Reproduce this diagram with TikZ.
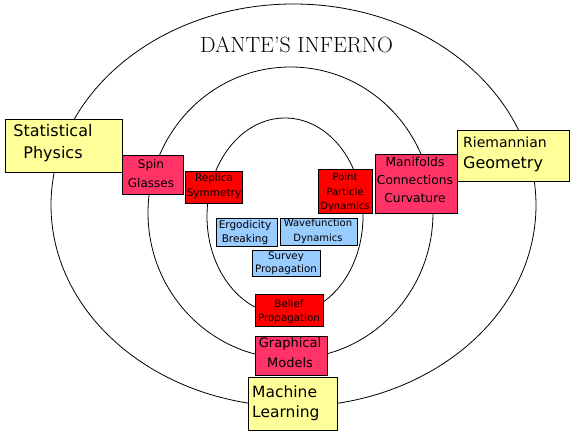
\documentclass[tikz,border=0pt]{standalone}
\usepackage{fontspec}
\newfontfamily\boxfnt{DejaVu Sans}
\usetikzlibrary{fit}
\definecolor{pyel}{HTML}{FFFF99}
\definecolor{ppink}{HTML}{FF3366}
\definecolor{pred}{HTML}{FF0000}
\definecolor{pblue}{HTML}{99CCFF}
\newcommand\ctrlines[1]{\vtop{\halign{\hfil##\hfil\cr#1\crcr}}}
\newcommand\lftlines[1]{\vtop{\halign{##\hfil\cr#1\crcr}}}
\begin{document}
\begin{tikzpicture}[x=1pt,y=-1pt,
  cbox/.style={draw=black,line width=0.9pt,inner sep=0pt,rectangle},
  txt/.style={inner sep=0pt,anchor=base,text=black},
  ring/.style={draw=black,line width=0.8pt}]
\fill[white] (0,0) rectangle (574,436);
\useasboundingbox (0,0) rectangle (574,436);
% rings
\draw[ring] (293.5,205.3) ellipse [x radius=242.5pt, y radius=201.3pt];
\draw[ring] (290.5,212.8) ellipse [x radius=142.5pt, y radius=145.8pt];
\draw[ring] (285,216.3) ellipse [x radius=78pt, y radius=98.3pt];
% title
\node[txt, font=\fontsize{22}{26}\selectfont\addfontfeature{LetterSpace=8}] (title) at (296.5,53) {DANTE'S INFERNO};
% boxes
\node[cbox, fill=pyel,  fit={(5,119) (122,172)}]   (sp) {};
\node[cbox, fill=ppink, fit={(122,155) (183,194)}] (sg) {};
\node[cbox, fill=pred,  fit={(185,171) (242,203)}] (rs) {};
\node[cbox, fill=pred,  fit={(318,169) (372,213)}] (pp) {};
\node[cbox, fill=ppink, fit={(375,154) (457,213)}] (mc) {};
\node[cbox, fill=pyel,  fit={(457,130) (569,181)}] (rg) {};
\node[cbox, fill=pblue, fit={(216,218) (277,246)}] (eb) {};
\node[cbox, fill=pblue, fit={(280,218) (357,245)}] (wd) {};
\node[cbox, fill=pblue, fit={(252,250) (320,276)}] (sv) {};
\node[cbox, fill=pred,  fit={(255,294) (323,326)}] (bp) {};
\node[cbox, fill=ppink, fit={(255,336) (327,375)}] (gm) {};
\node[cbox, fill=pyel,  fit={(248,377) (337,430)}] (ml) {};
% texts
\node[txt, font=\boxfnt\fontsize{16}{21}\selectfont] (spt) at (53,137) {\ctrlines{Statistical\cr Physics}};
\node[txt, font=\boxfnt\fontsize{12}{19}\selectfont] (sgt) at (151,168) {\ctrlines{Spin\cr Glasses}};
\node[txt, font=\boxfnt\fontsize{10.5}{15}\selectfont] (rst) at (214,182) {\ctrlines{Replica\cr Symmetry}};
\node[txt, font=\boxfnt\fontsize{10}{15}\selectfont] (ppt) at (345,180) {\ctrlines{Point\cr Particle\cr Dynamics}};
\node[txt, font=\boxfnt\fontsize{12.3}{18}\selectfont] (mct) at (415,167) {\ctrlines{Manifolds\cr Connections\cr Curvature}};
\node[txt, anchor=base west, font=\boxfnt\fontsize{16}{21}\selectfont] (rgt) at (463,147) {\lftlines{{\fontsize{14}{17}\selectfont Riemannian}\cr Geometry}};
\node[txt, font=\boxfnt\fontsize{10.5}{14}\selectfont] (ebt) at (245,229) {\ctrlines{Ergodicity\cr Breaking}};
\node[txt, font=\boxfnt\fontsize{10}{15}\selectfont] (wdt) at (318,226) {\ctrlines{Wavefunction\cr Dynamics}};
\node[txt, font=\boxfnt\fontsize{10.3}{13}\selectfont] (svt) at (286,259) {\ctrlines{Survey\cr Propagation}};
\node[txt, font=\boxfnt\fontsize{10.3}{14}\selectfont] (bpt) at (289,307) {\ctrlines{Belief\cr Propagation}};
\node[txt, font=\boxfnt\fontsize{13}{20}\selectfont] (gmt) at (290,347) {\ctrlines{Graphical\cr Models}};
\node[txt, anchor=base west, font=\boxfnt\fontsize{15.5}{20}\selectfont] (mlt) at (252,397) {\lftlines{Machine\cr Learning}};
\end{tikzpicture}
\end{document}
